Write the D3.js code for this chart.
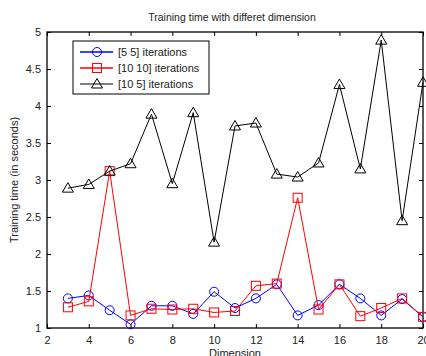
<!DOCTYPE html>
<html>
<head>
<meta charset="utf-8">
<script src="https://cdn.jsdelivr.net/npm/d3@7"></script>
<style>
  body { margin: 0; background: #fff; }
  text { font-family: "Liberation Sans", Arial, sans-serif; fill: #222; }
</style>
</head>
<body>
<div id="chart"></div>
<script>
// data
const dims = [3, 4, 5, 6, 7, 8, 9, 10, 11, 12, 13, 14, 15, 16, 17, 18, 19, 20];
const iter55 = [1.40, 1.44, 1.24, 1.05, 1.30, 1.30, 1.19, 1.49, 1.27, 1.40, 1.59, 1.17, 1.31, 1.59, 1.40, 1.17, 1.39, 1.15];
const iter1010 = [1.28, 1.36, 3.12, 1.17, 1.26, 1.25, 1.26, 1.21, 1.23, 1.57, 1.60, 2.76, 1.25, 1.59, 1.16, 1.27, 1.40, 1.15];
const iter105 = [2.89, 2.94, 3.12, 3.22, 3.89, 2.95, 3.91, 2.16, 3.73, 3.77, 3.08, 3.04, 3.23, 4.29, 3.15, 4.89, 2.45, 4.32];
const xTicks = [2, 4, 6, 8, 10, 12, 14, 16, 18, 20];
const yTicks = [1, 1.5, 2, 2.5, 3, 3.5, 4, 4.5, 5];

const series = [
    { name: "[5 5] iterations", values: iter55, color: "#0000ff", marker: "circle" },
    { name: "[10 10] iterations", values: iter1010, color: "#ff0000", marker: "square" },
    { name: "[10 5] iterations", values: iter105, color: "#000000", marker: "triangle" }
];

const width = 426, height = 356;
const margin = { top: 32, right: 2, bottom: 28, left: 47 };
const graphWidth = 423 - margin.left;
const graphHeight = 328 - margin.top;

const svg = d3.select("#chart").append("svg")
    .attr("width", width)
    .attr("height", height);

const graph = svg.append("g")
    .attr("transform", `translate(${margin.left},${margin.top})`);

const x = d3.scaleLinear().domain([2, 20]).range([0, graphWidth]);
const y = d3.scaleLinear().domain([1, 5]).range([graphHeight, 0]);

// axes, ticks pointing inward like matlab
const styleAxis = g => {
    g.select(".domain").remove();
    g.selectAll("line").attr("stroke", "#000");
    g.selectAll("text").style("font-size", "11px").attr("fill", "#222");
};
graph.append("g")
    .attr("transform", `translate(0,${graphHeight})`)
    .call(d3.axisBottom(x).tickValues(xTicks).tickSize(-4).tickPadding(8))
    .call(styleAxis);
graph.append("g")
    .call(d3.axisTop(x).tickValues(xTicks).tickSize(-4).tickFormat(""))
    .call(styleAxis);
graph.append("g")
    .call(d3.axisLeft(y).tickValues(yTicks).tickSize(-4).tickPadding(6).tickFormat(d3.format("~g")))
    .call(styleAxis);
graph.append("g")
    .attr("transform", `translate(${graphWidth},0)`)
    .call(d3.axisRight(y).tickValues(yTicks).tickSize(-4).tickFormat(""))
    .call(styleAxis);

// frame
graph.append("rect")
    .attr("width", graphWidth)
    .attr("height", graphHeight)
    .attr("fill", "none")
    .attr("stroke", "#000")
    .attr("stroke-width", 1.3);

const line = d3.line()
    .x((d, i) => x(dims[i]))
    .y(d => y(d));

const drawMarker = (sel, marker, color) => {
    if (marker === "circle") {
        sel.append("circle").attr("r", 4.5);
    } else if (marker === "square") {
        sel.append("rect").attr("x", -4.5).attr("y", -4.5).attr("width", 9).attr("height", 9);
    } else {
        sel.append("path").attr("d", "M0,-5.5L5.5,4L-5.5,4Z");
    }
    sel.selectAll("circle,rect,path")
        .attr("fill", "none")
        .attr("stroke", color)
        .attr("stroke-width", 1);
};

series.forEach(s => {
    graph.append("path")
        .datum(s.values)
        .attr("fill", "none")
        .attr("stroke", s.color)
        .attr("stroke-width", 1)
        .attr("d", line);

    graph.selectAll(null)
        .data(s.values)
        .enter().append("g")
        .attr("transform", (d, i) => `translate(${x(dims[i])},${y(d)})`)
        .each(function () { drawMarker(d3.select(this), s.marker, s.color); });
});

// title
svg.append("text")
    .attr("x", 232)
    .attr("y", 21)
    .attr("text-anchor", "middle")
    .style("font-size", "10.5px")
    .text("Training time with differet dimension");

// x label
svg.append("text")
    .attr("x", margin.left + graphWidth / 2)
    .attr("y", 357)
    .attr("text-anchor", "middle")
    .style("font-size", "11px")
    .text("Dimension");

// y label
svg.append("text")
    .attr("transform", "rotate(-90)")
    .attr("x", -(margin.top + graphHeight / 2))
    .attr("y", 18)
    .attr("text-anchor", "middle")
    .style("font-size", "11px")
    .text("Training time (in seconds)");

// legend
const legend = svg.append("g")
    .attr("transform", "translate(73,41)");
legend.append("rect")
    .attr("width", 136)
    .attr("height", 53)
    .attr("fill", "#fff")
    .attr("stroke", "#000")
    .attr("stroke-width", 1);

series.forEach((s, i) => {
    const row = legend.append("g")
        .attr("transform", `translate(0,${11 + i * 16})`);
    row.append("line")
        .attr("x1", 7).attr("x2", 40)
        .attr("stroke", s.color === "#000000" ? "#555" : s.color)
        .attr("stroke-width", 1.5);
    const m = row.append("g").attr("transform", "translate(24,0)");
    drawMarker(m, s.marker, s.color);
    row.append("text")
        .attr("x", 45)
        .attr("y", 4)
        .style("font-size", "11px")
        .text(s.name);
});
</script>
</body>
</html>
